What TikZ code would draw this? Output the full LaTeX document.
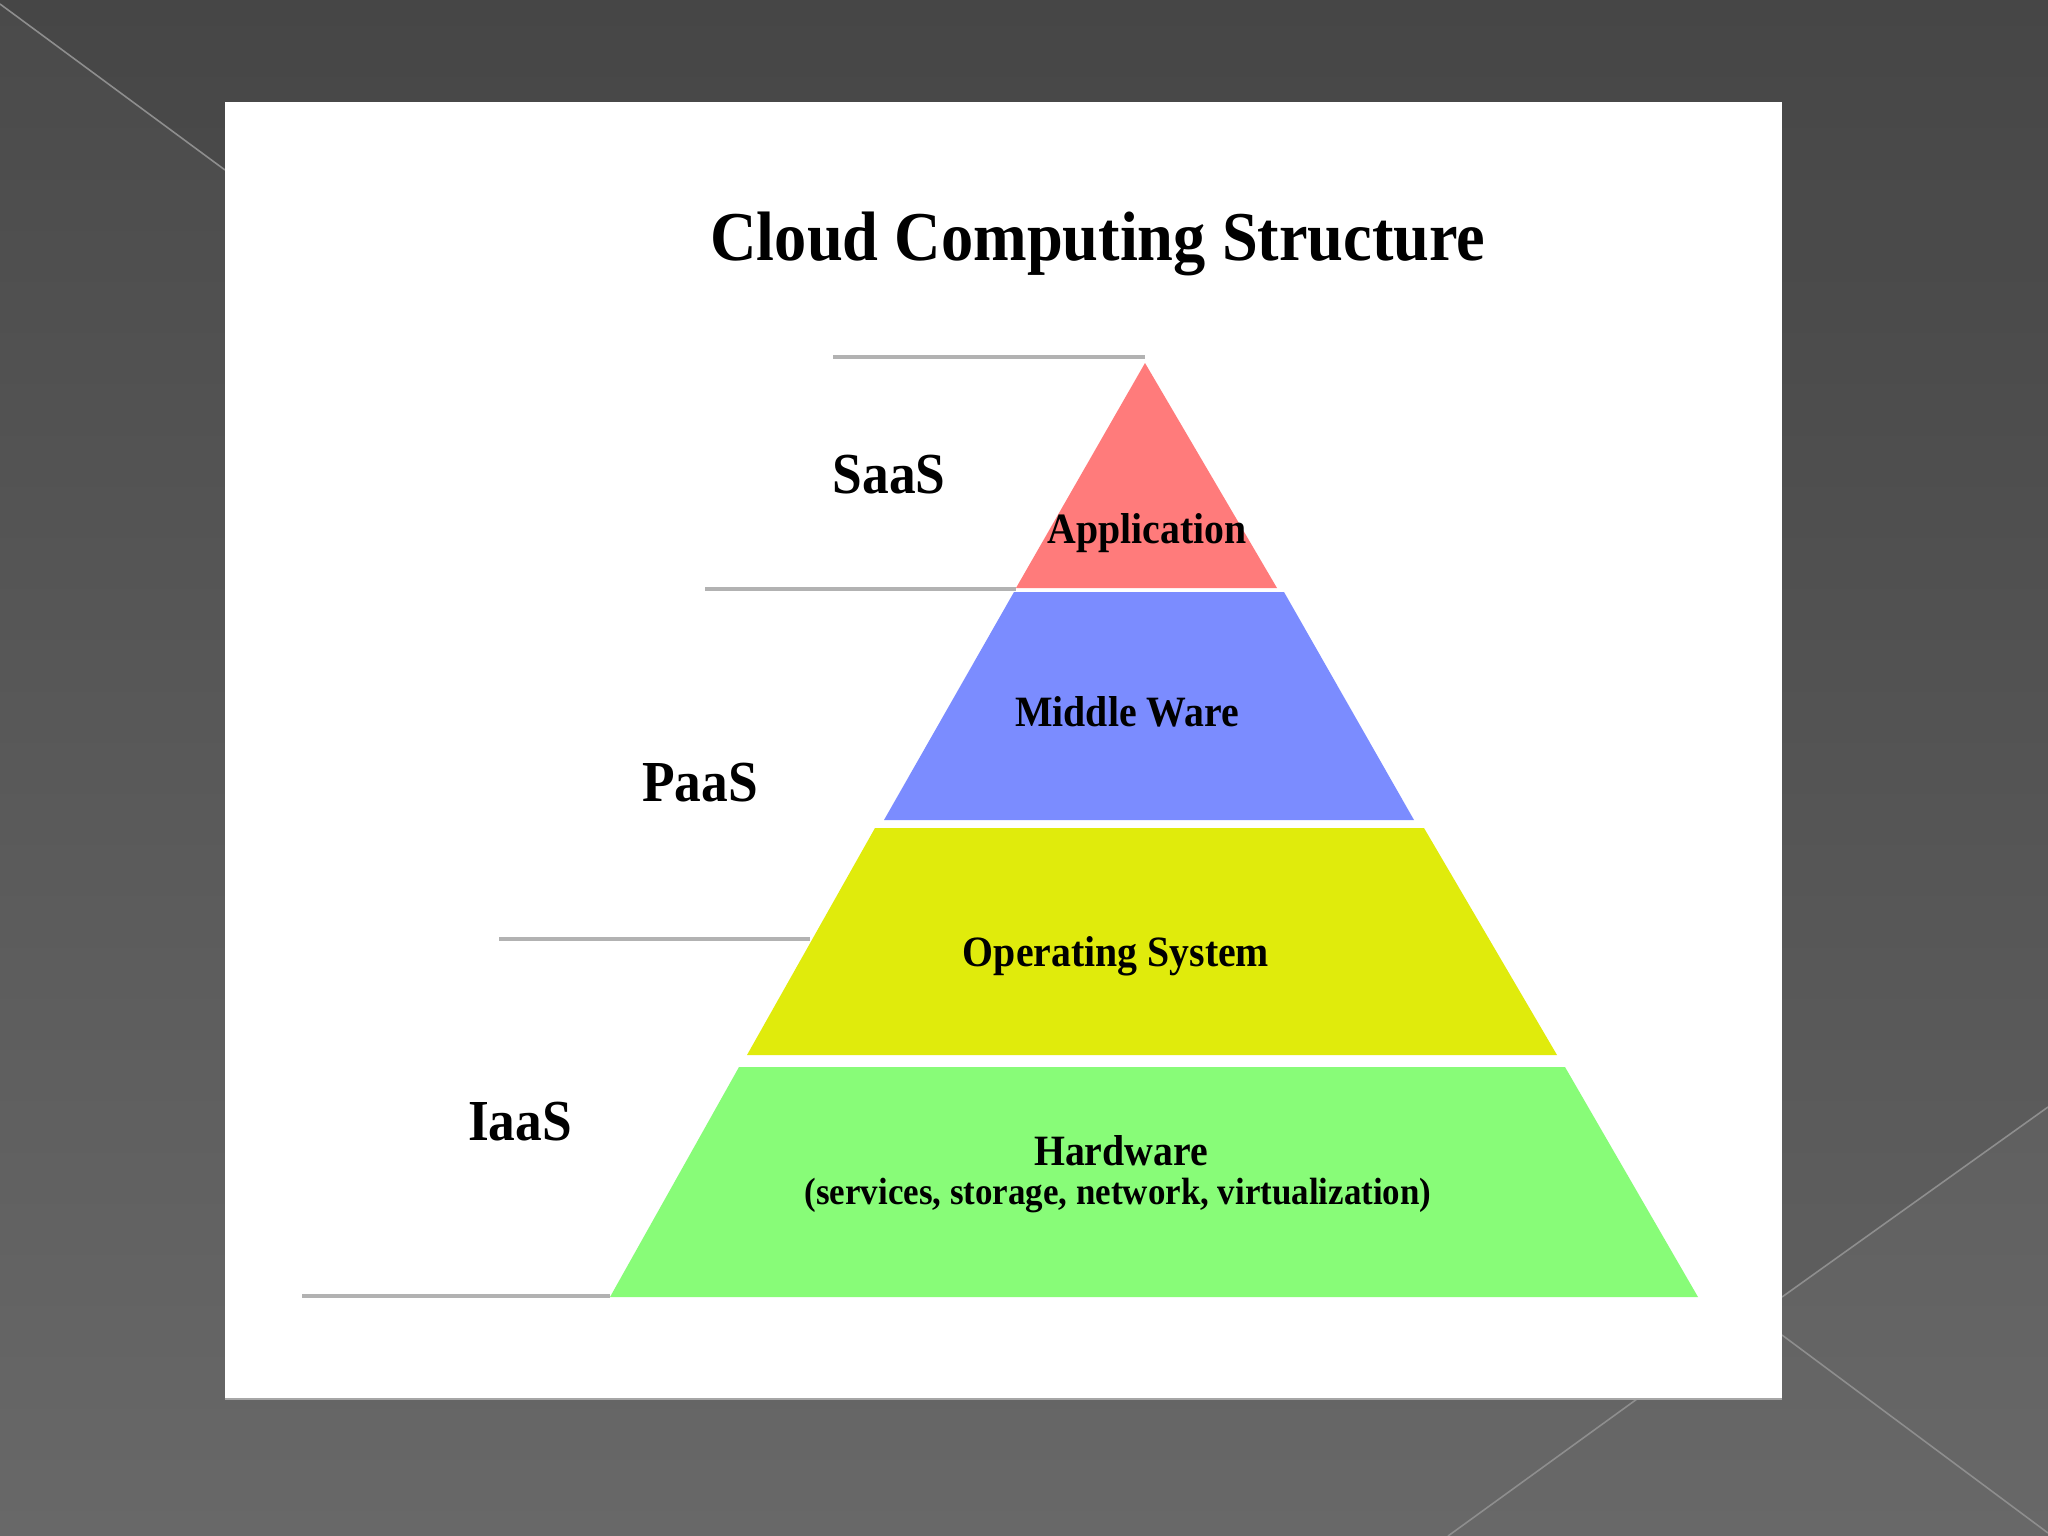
\documentclass[tikz,border=0pt]{standalone}
\usepackage{fontspec}
\setmainfont{Liberation Serif}
\newfontfamily\slidefont[FakeStretch=0.92]{Liberation Serif}
\usetikzlibrary{positioning}

\definecolor{bgtop}{HTML}{4A4A4A}
\definecolor{bgbot}{HTML}{686868}
\definecolor{streakclr}{HTML}{8E8E8E}
\definecolor{ruleclr}{HTML}{B2B2B2}
\definecolor{saasred}{HTML}{FF7B7B}
\definecolor{paasblue}{HTML}{7B8CFF}
\definecolor{osyellow}{HTML}{E0EB0C}
\definecolor{hwgreen}{HTML}{88FC78}

\tikzset{
  heading/.style={font=\slidefont\bfseries\fontsize{19.9pt}{22pt}\selectfont, anchor=base},
  tier/.style={font=\slidefont\bfseries\fontsize{16.5pt}{19pt}\selectfont, anchor=base},
  layer/.style={font=\slidefont\bfseries\fontsize{12.3pt}{14pt}\selectfont, anchor=base},
  sublayer/.style={font=\slidefont\bfseries\fontsize{10.8pt}{13pt}\selectfont, anchor=base},
  rule/.style={draw=ruleclr, line width=1.2pt},
  streak/.style={draw=streakclr, line width=0.45pt},
}

\begin{document}
\begin{tikzpicture}[x=0.01cm, y=-0.01cm]
  \useasboundingbox (0,0) rectangle (2048,1536);
  % slide background
  \shade[top color=bgtop, bottom color=bgbot] (0,0) rectangle (2048,1536);
  \fill[black, opacity=0.05] (0,4) -- (0,0) -- (2048,0) -- (2048,1107) -- (1782,1297) -- (1782,102) -- (225,102) -- (225,170) -- cycle;
  \draw[streak] (0,4) -- (225,170);
  \draw[streak] (1782,1297) -- (2048,1107);
  \draw[streak] (1782,1335) -- (2048,1533);
  \draw[streak] (1637,1399) -- (1448,1536);

  % white panel
  \fill[white] (225,102) rectangle (1782,1399);
  \draw[gray!70, line width=0.6pt] (225,1399) -- (1782,1399);

  % pyramid
  \fill[saasred] (1145,363) -- (1277,588) -- (1016,588) -- cycle;
  \fill[paasblue] (1014,592) -- (1284,592) -- (1414,820) -- (884,820) -- cycle;
  \fill[osyellow] (875,828) -- (1424,828) -- (1557,1055) -- (747,1055) -- cycle;
  \fill[hwgreen] (739,1067) -- (1565,1067) -- (1698,1297) -- (610,1297) -- cycle;

  % tier rules
  \draw[rule] (833,357) -- (1145,357);
  \draw[rule] (705,589) -- (1016,589);
  \draw[rule] (499,939) -- (810,939);
  \draw[rule] (302,1296) -- (610,1296);

  % texts
  \node[heading] (title) at (1098,260) {Cloud Computing Structure};
  \node[tier] (saas) at (889,493) {SaaS};
  \node[tier] (paas) at (700,801) {PaaS};
  \node[tier] (iaas) at (520,1140) {IaaS};
  \node[layer] (app) at (1147,543) {Application};
  \node[layer] (mid) at (1127,726) {Middle Ware};
  \node[layer] (os) at (1116,966) {Operating System};
  \node[layer] (hw) at (1121,1165) {Hardware};
  \node[sublayer] (hwsub) at (1118,1204) {(services, storage, network, virtualization)};
\end{tikzpicture}
\end{document}
